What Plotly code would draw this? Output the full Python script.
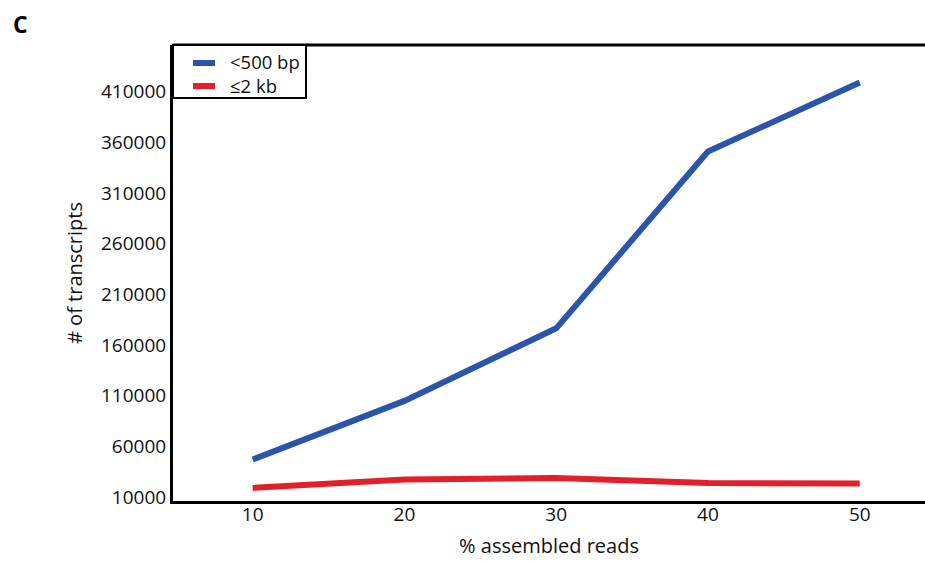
import plotly.graph_objects as go

x_vals = [10, 20, 30, 40, 50]
short_500 = [47000, 104800, 176400, 350900, 419000]
le_2kb = [18900, 27200, 28800, 23800, 23200]
series_names = ["<500 bp", "≤2 kb"]
series_colors = ["#2b55a8", "#e3202a"]
y_ticks = [10000, 60000, 110000, 160000, 210000, 260000, 310000, 360000, 410000]

FONT = "Open Sans"

fig = go.Figure()
for vals, name, col in zip([short_500, le_2kb], series_names, series_colors):
    fig.add_trace(go.Scatter(x=x_vals, y=vals, mode="lines", name=name,
                             line=dict(color=col, width=6), showlegend=False))

# plot-area geometry (pixels) for the hand-drawn legend box
L, T, W, H = 173, 45, 752, 456
px = lambda p: (p - L) / W
py = lambda p: (T + H - p) / H

shapes = [
    dict(type="line", xref="paper", yref="paper", x0=0, x1=1, y0=1, y1=1,
         line=dict(color="black", width=3)),
    dict(type="rect", xref="paper", yref="paper", x0=0, x1=px(306), y0=py(98), y1=1,
         line=dict(color="black", width=2), fillcolor="white", layer="above"),
]
annotations = [dict(text="<b>C</b>", xref="paper", yref="paper", x=px(20), y=py(24),
                    xanchor="center", yanchor="middle", showarrow=False,
                    font=dict(size=23, color="black"))]
for i, (name, col) in enumerate(zip(series_names, series_colors)):
    yy = 63 + 23 * i
    shapes.append(dict(type="line", xref="paper", yref="paper", x0=px(193), x1=px(215),
                       y0=py(yy), y1=py(yy), line=dict(color=col, width=6), layer="above"))
    annotations.append(dict(text=name, xref="paper", yref="paper", x=px(228), y=py(yy - 1),
                            xanchor="left", yanchor="middle", showarrow=False,
                            font=dict(size=18.5, color="#111")))

fig.update_layout(
    width=925, height=561,
    margin=dict(l=L, r=0, t=T, b=561 - T - H),
    paper_bgcolor="white", plot_bgcolor="white",
    font=dict(family=FONT, size=19, color="#111"),
    showlegend=False,
    xaxis=dict(range=[4.75, 54.3], tickvals=x_vals, showgrid=False, zeroline=False,
               showline=True, linecolor="black", linewidth=3, ticks="",
               ticklabelstandoff=-6, automargin=False,
               title=dict(text="% assembled reads", standoff=14, font=dict(size=20))),
    yaxis=dict(range=[6000, 456000], tickvals=y_ticks, tickformat="d",
               showgrid=False, zeroline=False,
               showline=True, linecolor="black", linewidth=3, ticks="",
               ticklabelstandoff=0, automargin=False,
               title=dict(text="# of transcripts", standoff=14, font=dict(size=20))),
    shapes=shapes,
    annotations=annotations,
)

fig.write_html("out.html", config={"displayModeBar": False},
               post_script="document.body.style.margin='0';document.body.style.overflow='hidden';")
